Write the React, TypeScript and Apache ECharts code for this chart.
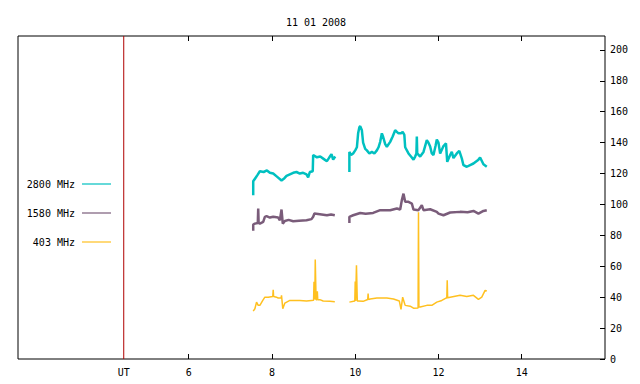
import React, { useEffect, useRef } from "react";
import * as echarts from "echarts";

const TITLE = "11 01 2008";
const X_TICKS = [6, 8, 10, 12, 14];
const Y_TICKS = [0, 20, 40, 60, 80, 100, 120, 140, 160, 180, 200];
const UT_TIME = 4.44;
const Y_MAX = 209;
const SERIES_NAMES = ["2800 MHz", "1580 MHz", "403 MHz"];
const SERIES_COLORS = ["#00c0c0", "#7a5c7a", "#ffc020"];

const T2800 = [7.55,7.55,7.60,7.65,7.71,7.80,7.88,7.95,8.03,8.12,8.23,8.30,8.35,8.43,8.51,8.59,8.67,8.75,8.83,8.87,8.91,8.98,8.99,9.08,9.16,9.24,9.32,9.38,9.43,9.47,9.52,
  9.70,
  9.86,9.86,9.90,9.95,10.00,10.04,10.07,10.10,10.12,10.16,10.19,10.24,10.28,10.34,10.40,10.46,10.52,10.56,10.60,10.64,10.67,10.72,10.76,10.84,10.90,10.96,11.00,11.04,11.10,11.14,11.18,11.20,11.28,11.34,11.40,11.44,11.47,11.48,11.49,11.56,11.64,11.72,11.76,11.80,11.84,11.88,11.93,11.96,12.00,12.04,12.12,12.18,12.21,12.28,12.32,12.36,12.44,12.50,12.56,12.60,12.68,12.76,12.84,12.96,13.00,13.08,13.16];
const V2800 = [106,115,117,119,121.5,121,122,120.5,120,118,115.5,117,118.5,119.5,120.5,121,120,120.5,119.5,117.5,121,121.5,132,130.5,131,129.5,128,130.5,132.5,129,131,
  null,
  121,134,132,133,135,137,146,150,150.7,148,140,136,135,133,134,133,135,137,140.5,146,143.8,139,137.3,140.5,144,148,147,146,146,147,145,137,133,131,129,131,133,144,133,131,134,141.6,140,137.5,133,132,138,142,140,133,137.8,139.5,127.6,132,134,130,133,134.7,129.8,125.4,124.4,125.5,126.5,129,130.4,126,124.4];

const T1580 = [7.55,7.55,7.59,7.66,7.67,7.68,7.71,7.79,7.83,7.87,7.95,8.03,8.15,8.19,8.23,8.26,8.31,8.40,8.51,8.65,8.83,8.95,8.99,9.02,9.15,9.32,9.42,9.51,
  9.70,
  9.86,9.86,9.95,10.12,10.25,10.43,10.60,10.84,11.00,11.08,11.12,11.16,11.20,11.28,11.36,11.40,11.52,11.60,11.64,11.80,11.96,12.00,12.12,12.28,12.52,12.70,12.84,12.96,13.08,13.16];
const V1580 = [83,87,87.6,88,97.4,88,87.6,88.7,92,92.4,91.5,92,91.5,89.8,96.7,87.6,89.3,90,89.1,89.5,89.8,90.5,92,94.1,93.7,93,93.5,93,
  null,
  88,92,93,94.5,94,94.5,96.3,96.3,97.4,96.7,102.8,107,101.7,101.7,100.6,96.7,96.3,99.5,96.3,96.9,95.2,94.1,93,94.8,95.2,95,95.8,94.1,95.8,96.3];

const T403 = [7.55,7.59,7.63,7.67,7.71,7.78,7.83,7.91,8.02,8.03,8.04,8.11,8.15,8.22,8.23,8.26,8.31,8.43,8.67,8.83,8.95,9.00,9.01,9.03,9.04,9.06,9.08,9.09,9.10,9.15,9.23,9.39,9.51,
  9.70,
  9.86,9.99,10.00,10.01,10.03,10.05,10.07,10.19,10.30,10.31,10.32,10.36,10.52,10.76,10.92,11.06,11.10,11.14,11.20,11.32,11.40,11.51,11.52,11.53,11.56,11.72,11.84,11.96,12.08,12.18,12.20,12.21,12.22,12.28,12.52,12.68,12.84,12.96,13.04,13.12,13.16];
const V403 = [31,32.5,36.8,34.7,34.7,37.9,40,40,40.5,44.8,40.5,40,39.4,39.4,41.2,32.5,36.2,37.9,37.9,37.5,37.9,38,50,38.5,64.3,38.4,38.4,43.8,38.4,38.4,37.5,37.3,37.1,
  null,
  36.8,37.5,50.2,37.5,60.6,37.5,37.5,37.3,38.5,42.3,38.5,38.8,39.4,39.4,38.8,37.5,32.1,40,34.7,34.2,32.9,33,95,33.6,33.6,34.7,34.7,36.8,37.9,39.4,39.4,50.9,39.6,40,41.2,40.5,41.2,38.6,40,44.4,44];

const FONT = "DejaVu Sans Mono";

function pairs(t: number[], v: (number | null)[]) {
  return t.map((x, i) => [x, v[i] === null || v[i] === undefined ? "-" : v[i]]);
}

export default function App() {
  const ref = useRef<HTMLDivElement>(null);
  useEffect(() => {
    if (!ref.current) return;
    const chart = echarts.init(ref.current, null, { renderer: "svg" });
    const grid = { left: 18, top: 36, right: 35, bottom: 25 };
    const legendY = [184, 213, 242];
    const graphicEls: any[] = [];
    SERIES_NAMES.forEach((n, i) => {
      graphicEls.push({
        type: "text",
        x: 75,
        y: legendY[i],
        style: { text: n, fill: "#000", font: `10px '${FONT}'`, textAlign: "right", textVerticalAlign: "middle" },
      });
      graphicEls.push({
        type: "line",
        shape: { x1: 82, y1: legendY[i], x2: 111, y2: legendY[i] },
        style: { stroke: SERIES_COLORS[i], lineWidth: 1.2 },
      });
    });
    const datasets = [pairs(T2800, V2800), pairs(T1580, V1580), pairs(T403, V403)];
    chart.setOption({
      animation: false,
      backgroundColor: "#fff",
      title: {
        text: TITLE,
        left: 311,
        top: 12,
        textAlign: "center",
        textStyle: { fontFamily: FONT, fontSize: 10, fontWeight: "normal", color: "#000" },
      },
      grid: { ...grid, show: true, borderColor: "#000", borderWidth: 1, backgroundColor: "transparent" },
      xAxis: [
        {
          type: "value",
          min: 1.9,
          max: 16,
          position: "bottom",
          axisLine: { show: false },
          splitLine: { show: false },
          axisTick: { show: true, inside: true, length: 5, lineStyle: { color: "#000" }, customValues: X_TICKS },
          axisLabel: {
            show: true,
            margin: 8,
            fontFamily: FONT,
            fontSize: 10,
            color: "#000",
            customValues: [UT_TIME, ...X_TICKS],
            formatter: (v: number) => (Math.abs(v - UT_TIME) < 0.01 ? "UT" : String(v)),
          },
        },
        {
          type: "value",
          min: 1.9,
          max: 16,
          position: "top",
          axisLine: { show: false },
          splitLine: { show: false },
          axisTick: { show: true, inside: true, length: 5, lineStyle: { color: "#000" }, customValues: X_TICKS },
          axisLabel: { show: false },
        },
      ],
      yAxis: {
        type: "value",
        min: 0,
        max: Y_MAX,
        position: "right",
        axisLine: { show: false },
        splitLine: { show: false },
        axisTick: { show: true, inside: true, length: 5, lineStyle: { color: "#000" }, customValues: Y_TICKS },
        axisLabel: { show: true, margin: 5, fontFamily: FONT, fontSize: 10, color: "#000", customValues: Y_TICKS },
      },
      graphic: graphicEls,
      series: [
        {
          type: "line",
          name: "UT",
          data: [[UT_TIME, 0], [UT_TIME, Y_MAX]],
          showSymbol: false,
          symbol: "none",
          itemStyle: { color: "#b00000" },
          lineStyle: { color: "#b00000", width: 1 },
          z: 1,
        },
        ...datasets.map((d, i) => ({
          type: "line",
          name: SERIES_NAMES[i],
          data: d,
          showSymbol: false,
          symbol: "none",
          connectNulls: false,
          itemStyle: { color: SERIES_COLORS[i] },
          lineStyle: { color: SERIES_COLORS[i], width: i === 2 ? 1.5 : 2.5 },
          z: 5 - i,
        })),
      ],
    });
    return () => chart.dispose();
  }, []);
  return <div ref={ref} style={{ position: "fixed", left: 0, top: 0, width: 640, height: 384 }} />;
}
